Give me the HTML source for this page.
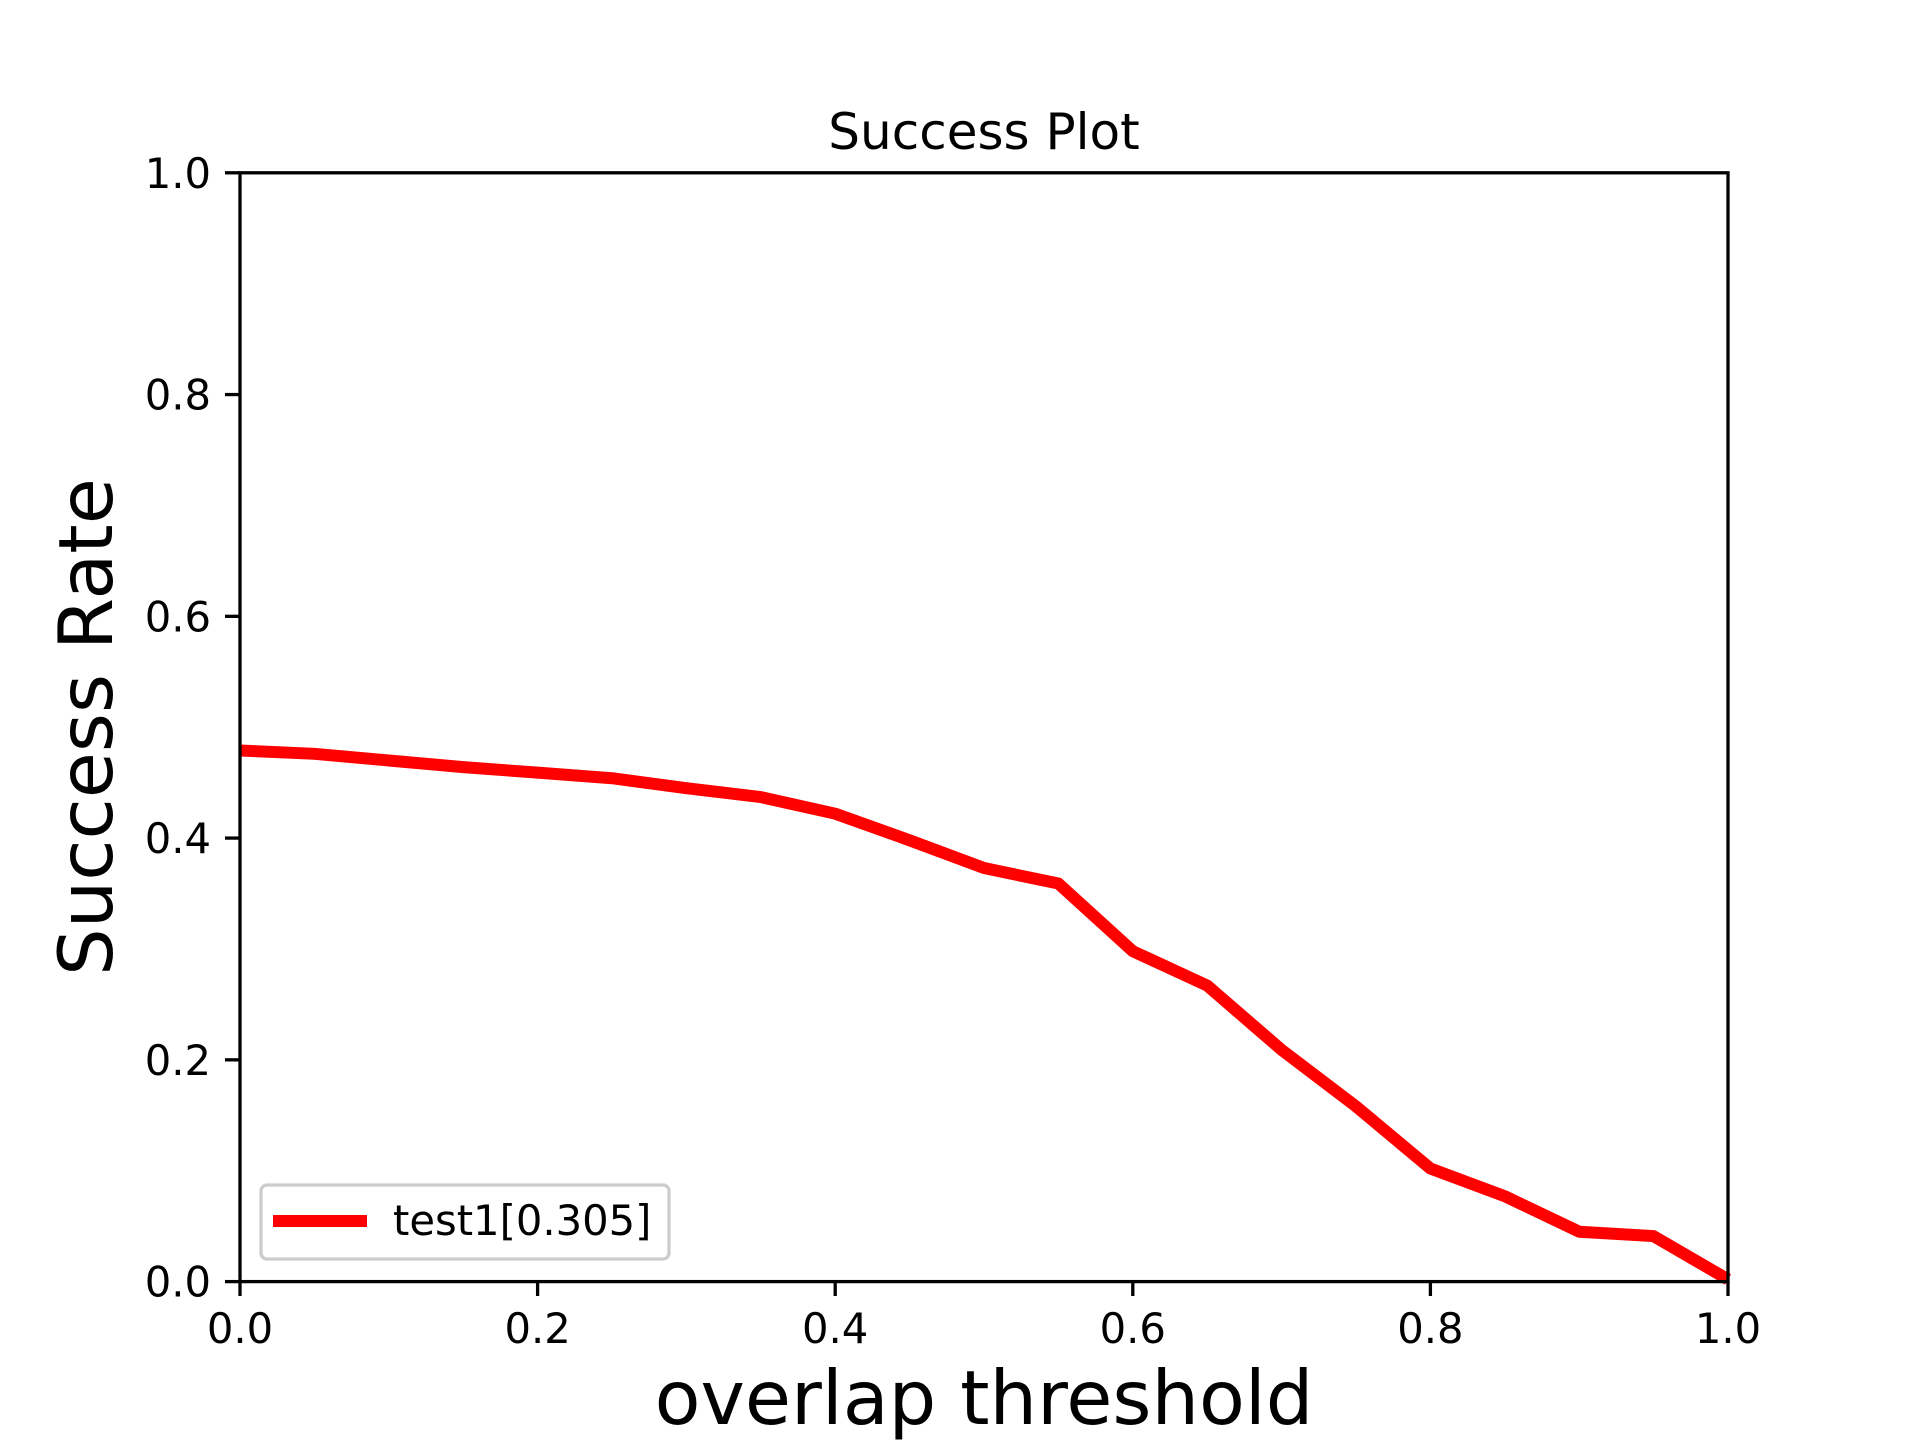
<!DOCTYPE html>
<html><head><meta charset="utf-8"><style>
body{margin:0;background:#fff;}
svg{display:block;font-family:"DejaVu Sans","Liberation Sans",sans-serif;}
</style></head><body>
<svg id="chart" width="1920" height="1440" viewBox="0 0 1920 1440">
<rect width="1920" height="1440" fill="#fff"/>
<g id="ticks"></g>
<polyline id="line" fill="none" stroke="#ff0000" stroke-width="12" stroke-linejoin="round"/>
<rect x="240" y="172.8" width="1488" height="1108.8" fill="none" stroke="#000" stroke-width="3.3"/>
<text x="984" y="149" font-size="50" text-anchor="middle">Success Plot</text>
<text x="984" y="1424" font-size="75" text-anchor="middle">overlap threshold</text>
<text transform="translate(112,727) rotate(-90)" font-size="75" text-anchor="middle">Success Rate</text>
<g>
<rect x="261" y="1185" width="408" height="74" rx="6" fill="#fff" stroke="#ccc" stroke-width="3.3"/>
<line x1="273" y1="1221" x2="367" y2="1221" stroke="#ff0000" stroke-width="12"/>
<text x="393" y="1235" font-size="41.7">test1[0.305]</text>
</g>
</svg>
<script>
const xs=[0,0.05,0.1,0.15,0.2,0.25,0.3,0.35,0.4,0.45,0.5,0.55,0.6,0.65,0.7,0.75,0.8,0.85,0.9,0.95,1.0];
const ys=[0.479,0.476,0.470,0.464,0.459,0.454,0.445,0.437,0.422,0.398,0.373,0.359,0.298,0.267,0.209,0.158,0.102,0.077,0.045,0.041,0.002];
const xTicks=[0,0.2,0.4,0.6,0.8,1.0];
const yTicks=[0,0.2,0.4,0.6,0.8,1.0];
const X=v=>240+v*1488, Y=v=>1281.6-v*1108.8;
const NS="http://www.w3.org/2000/svg";
document.getElementById('line').setAttribute('points',xs.map((x,i)=>X(x)+','+Y(ys[i])).join(' '));
const g=document.getElementById('ticks');
xTicks.forEach(t=>{
 const l=document.createElementNS(NS,'line');
 l.setAttribute('x1',X(t));l.setAttribute('x2',X(t));l.setAttribute('y1',1281.6);l.setAttribute('y2',1296);
 l.setAttribute('stroke','#000');l.setAttribute('stroke-width','3.3');
 
 
 g.appendChild(l);
 const tx=document.createElementNS(NS,'text');
 tx.setAttribute('x',X(t));tx.setAttribute('y',1343);tx.setAttribute('font-size','41.7');tx.setAttribute('text-anchor','middle');
 tx.textContent=t.toFixed(1);
 
 
 g.appendChild(tx);
});
yTicks.forEach(t=>{
 const l=document.createElementNS(NS,'line');
 l.setAttribute('x1',225);l.setAttribute('x2',240);l.setAttribute('y1',Y(t));l.setAttribute('y2',Y(t));
 l.setAttribute('stroke','#000');l.setAttribute('stroke-width','3.3');
 
 
 g.appendChild(l);
 const tx=document.createElementNS(NS,'text');
 tx.setAttribute('x',211);tx.setAttribute('y',Y(t)+15);tx.setAttribute('font-size','41.7');tx.setAttribute('text-anchor','end');
 tx.textContent=t.toFixed(1);
 
 
 g.appendChild(tx);
});
</script>
</body></html>
